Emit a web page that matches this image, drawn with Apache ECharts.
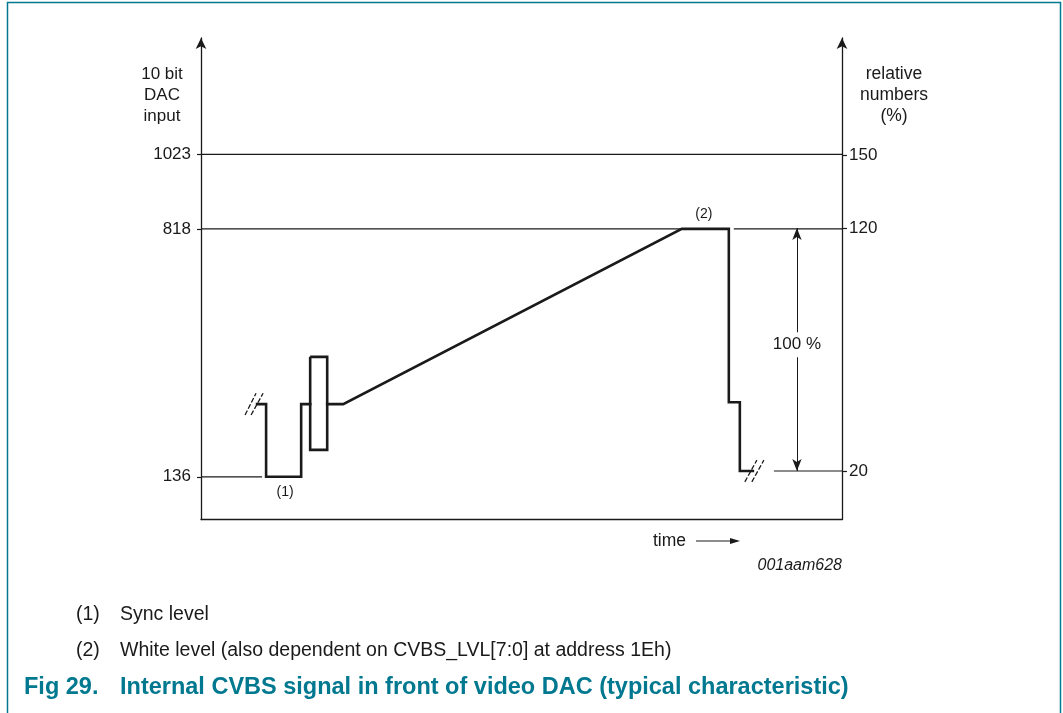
<!DOCTYPE html>
<html><head><meta charset="utf-8">
<script src="https://cdn.jsdelivr.net/npm/echarts@6/dist/echarts.min.js"></script>
<style>html,body{margin:0;padding:0;background:#fff}#c{width:1063px;height:713px}</style>
</head><body><div id="c"></div><script>
// ---- data (time in arbitrary units, left axis = 10 bit DAC code, right axis = %) ----
const leftTicks = [136, 818, 1023];
const rightTicks = [20, 120, 150];
const signalSync = [[5.6,336],[6.5,336],[6.5,136],[10.0,136],[10.0,336],[10.9,336]];
const signalActive = [[12.6,336],[14.2,336],[48.0,818],[52.7,818],[52.7,341],[53.8,341],[53.8,152],[55.1,152]];
const burst = [[10.9,466],[12.6,466],[12.6,210],[10.9,210],[10.9,466]];
const level1023 = [[0,1023],[64,1023]];
const level818a = [[0,818],[48,818]];
const level818b = [[53.2,818],[64,818]];
const level136 = [[0,136],[6.1,136]];
const level20pct = [[57.2,20],[64,20]];
const rangeArrow = [[59.5,20],[59.5,120]];
const breakLeft1 = [[4.4,306],[5.5,366]];
const breakLeft2 = [[5.0,306],[6.2,366]];
const breakRight1 = [[54.3,122],[55.5,182]];
const breakRight2 = [[55.0,122],[56.2,182]];
const noteSync = [[8.4,136]];
const noteWhite = [[50.2,818]];
const notePct = [[59.5,72]];

const INK = '#1a1a1a';
const TEAL = '#00788f';
const FONT = '"Liberation Sans", Arial, Helvetica, sans-serif';

const chart = echarts.init(document.getElementById('c'), null, {renderer:'canvas'});

function thin(data, yi){
  return {type:'line', data, yAxisIndex: yi||0, symbol:'none', silent:true,
    lineStyle:{color:INK, width:1.2}, z:2, animation:false};
}
function brk(data){
  return {type:'line', data, symbol:'none', silent:true,
    lineStyle:{color:INK, width:1.3, type:[5,2]}, z:4, animation:false};
}
function note(data, text, pos, yi, extra){
  return {type:'scatter', data, yAxisIndex: yi||0, symbolSize:0, silent:true, z:6, animation:false,
    itemStyle:{opacity:1},
    label:Object.assign({show:true, formatter:text, position:pos, color:INK,
      fontFamily:FONT, fontSize:14, distance:8}, extra||{})};
}

chart.setOption({
  animation:false,
  grid:{left:201, right:221, top:38, bottom:193.4},
  xAxis:{type:'value', min:0, max:64,
    axisLine:{show:true, lineStyle:{color:INK, width:1.3}},
    axisTick:{show:false}, axisLabel:{show:false}, splitLine:{show:false}},
  yAxis:[
    {type:'value', position:'left', min:18.3, max:1343,
      axisLine:{show:true, symbol:['none','arrow'], symbolSize:[8,11], lineStyle:{color:INK, width:1.3}},
      axisTick:{show:true, customValues:leftTicks, length:4, lineStyle:{color:INK, width:1.2}},
      axisLabel:{show:true, customValues:leftTicks, formatter:v => String(v), color:INK, fontFamily:FONT, fontSize:17, margin:10},
      splitLine:{show:false}},
    {type:'value', position:'right', min:0, max:198.2,
      axisLine:{show:true, symbol:['none','arrow'], symbolSize:[8,11], lineStyle:{color:INK, width:1.3}},
      axisTick:{show:true, customValues:rightTicks, length:5, lineStyle:{color:INK, width:1.2}},
      axisLabel:{show:true, customValues:rightTicks, formatter:v => String(v), color:INK, fontFamily:FONT, fontSize:17, margin:7},
      splitLine:{show:false}}
  ],
  series:[
    thin(level1023), thin(level818a), thin(level818b), thin(level136), thin(level20pct,1),
    {type:'line', data:signalSync, symbol:'none', silent:true, lineStyle:{color:INK, width:2.6, join:'miter', cap:'square'}, z:5},
    {type:'line', data:signalActive, symbol:'none', silent:true, lineStyle:{color:INK, width:2.6, join:'miter', cap:'square'}, z:5},
    {type:'line', data:burst, symbol:'none', silent:true, lineStyle:{color:INK, width:2.6, join:'miter'}, z:5},
    brk(breakLeft1), brk(breakLeft2), brk(breakRight1), brk(breakRight2),
    {type:'line', data:[], yAxisIndex:1, silent:true,
      markLine:{silent:true, symbol:['arrow','arrow'], symbolSize:[7,12],
        lineStyle:{color:INK, width:1, type:'solid'}, label:{show:false},
        data:[[{coord:rangeArrow[0]},{coord:rangeArrow[1]}]]}},
    note(noteSync, '(1)', 'bottom'),
    note(noteWhite, '(2)', 'top'),
    note(notePct, '100 %', 'inside', 1, {fontSize:17, textBorderWidth:0, backgroundColor:'#fff', padding:[4,2]})
  ],
  graphic:[
    {type:'rect', shape:{x:7.5, y:2.5, width:1053, height:730}, style:{fill:null, stroke:TEAL, lineWidth:1.5}, silent:true},
    {type:'text', x:162, y:64, style:{text:'10 bit\nDAC\ninput', align:'center', fill:INK, font:'17px '+FONT, lineHeight:21}},
    {type:'text', x:894, y:64, style:{text:'relative\nnumbers\n(%)', align:'center', fill:INK, font:'17.5px '+FONT, lineHeight:21}},
    {type:'text', x:653, y:541, style:{text:'time', fill:INK, font:'17.5px '+FONT, verticalAlign:'middle'}},
    {type:'line', shape:{x1:696, y1:541, x2:732, y2:541}, style:{stroke:INK, lineWidth:1}},
    {type:'polygon', shape:{points:[[740,541],[730,538],[730,544]]}, style:{fill:INK}},
    {type:'text', x:842, y:566, style:{text:'001aam628', align:'right', verticalAlign:'middle', fill:INK, font:'italic 16px '+FONT}},
    {type:'text', x:76, y:615, style:{text:'(1)', fill:INK, font:'19.5px '+FONT, verticalAlign:'middle'}},
    {type:'text', x:120, y:615, style:{text:'Sync level', fill:INK, font:'19.5px '+FONT, verticalAlign:'middle'}},
    {type:'text', x:76, y:651, style:{text:'(2)', fill:INK, font:'19.5px '+FONT, verticalAlign:'middle'}},
    {type:'text', x:120, y:651, style:{text:'White level (also dependent on CVBS_LVL[7:0] at address 1Eh)', fill:INK, font:'19.5px '+FONT, verticalAlign:'middle'}},
    {type:'text', x:24, y:688, style:{text:'Fig 29.', fill:TEAL, font:'bold 23.5px '+FONT, verticalAlign:'middle'}},
    {type:'text', x:120, y:688, style:{text:'Internal CVBS signal in front of video DAC (typical characteristic)', fill:TEAL, font:'bold 23.5px '+FONT, verticalAlign:'middle'}}
  ]
});
</script></body></html>
